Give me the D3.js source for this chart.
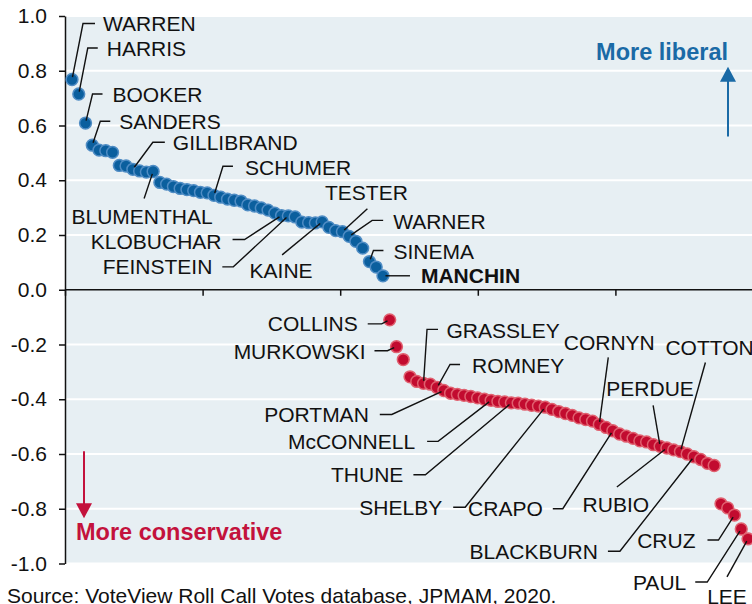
<!DOCTYPE html>
<html>
<head>
<meta charset="utf-8">
<script src="https://cdn.jsdelivr.net/npm/d3@7"></script>
<style>
  body { margin: 0; background: #fff; }
  svg { display: block; font-family: "Liberation Sans", Arial, sans-serif; }
</style>
</head>
<body>
<div id="chart"></div>
<script>
// ideology score per senator, ranked from most liberal to most conservative
var demScores = [0.768, 0.715, 0.609, 0.528, 0.510, 0.508, 0.502, 0.454, 0.452, 0.440,
  0.434, 0.430, 0.432, 0.392, 0.386, 0.377, 0.370, 0.366, 0.362, 0.356,
  0.354, 0.345, 0.338, 0.331, 0.327, 0.324, 0.310, 0.306, 0.299, 0.291,
  0.280, 0.271, 0.270, 0.266, 0.247, 0.245, 0.244, 0.248, 0.228, 0.216,
  0.212, 0.195, 0.177, 0.152, 0.103, 0.083, 0.051];
var repScores = [-0.110, -0.208, -0.255, -0.318, -0.335, -0.342, -0.345, -0.357, -0.368, -0.378,
  -0.382, -0.386, -0.390, -0.395, -0.400, -0.404, -0.408, -0.410, -0.413, -0.414,
  -0.418, -0.422, -0.425, -0.429, -0.437, -0.445, -0.452, -0.459, -0.468, -0.474,
  -0.480, -0.492, -0.503, -0.515, -0.527, -0.535, -0.543, -0.552, -0.556, -0.566,
  -0.572, -0.578, -0.585, -0.591, -0.600, -0.610, -0.620, -0.634, -0.642, -0.782,
  -0.797, -0.823, -0.874, -0.910];

var yTicks = [-1, -0.8, -0.6, -0.4, -0.2, 0, 0.2, 0.4, 0.6, 0.8, 1];
var yTickLabels = ["-1.0", "-0.8", "-0.6", "-0.4", "-0.2", "0.0", "0.2", "0.4", "0.6", "0.8", "1.0"];
var xTicks = [0, 20, 40, 60, 80, 100];

var labelNames = ["WARREN", "HARRIS", "BOOKER", "SANDERS", "GILLIBRAND", "BLUMENTHAL", "SCHUMER",
  "KLOBUCHAR", "FEINSTEIN", "KAINE", "TESTER", "WARNER", "SINEMA", "MANCHIN",
  "COLLINS", "MURKOWSKI", "GRASSLEY", "ROMNEY", "PORTMAN", "McCONNELL", "THUNE", "SHELBY",
  "CRAPO", "CORNYN", "PERDUE", "COTTON", "RUBIO", "BLACKBURN", "CRUZ", "PAUL", "LEE"];
var labelRank = [0, 1, 2, 3, 9, 12, 21, 31, 32, 37, 40, 41, 44, 46,
  47, 48, 52, 54, 55, 62, 65, 70, 80, 78, 87, 90, 88, 92, 98, 99, 100];

// where each name sits relative to its dot (px): text offset, anchor, leader knee and tail
var labelLayout = [
  {tx: 31, ty: -56, a: "start", k: [11, -56], t: [23, -56]},
  {tx: 28, ty: -46, a: "start", k: [9, -46], t: [19, -46]},
  {tx: 27, ty: -29, a: "start", k: [7, -29], t: [17, -29]},
  {tx: 27, ty: -24, a: "start", k: [8, -24], t: [18, -24]},
  {tx: 40, ty: -27, a: "start", k: [20, -27], t: [32, -27]},
  {tx: -11, ty: 45, a: "middle", k: [-9, 27]},
  {tx: 31, ty: -28, a: "start", k: [9, -29], t: [19, -29]},
  {tx: -60, ty: 26, a: "end", k: [-37, 24], t: [-49, 24]},
  {tx: -76, ty: 51, a: "end", k: [-55, 51], t: [-66, 51]},
  {tx: -41, ty: 49, a: "middle", k: [-40, 33]},
  {tx: 24, ty: -39, a: "middle", k: [25, -23]},
  {tx: 44, ty: -15, a: "start", k: [23, -16], t: [34, -16]},
  {tx: 24, ty: -10, a: "start", k: [4, -11], t: [14, -11]},
  {tx: 38, ty: 0, a: "start", k: [27, 0], bold: true},
  {tx: -32, ty: 4, a: "end", k: [-8, 4], t: [-22, 4]},
  {tx: -31, ty: 5, a: "end", k: [-9, 4], t: [-22, 4]},
  {tx: 23, ty: -53, a: "start", k: [3.5, -54], t: [14.5, -54]},
  {tx: 35, ty: -22, a: "start", k: [13, -23], t: [23, -23]},
  {tx: -75, ty: 24, a: "end", k: [-52, 24], t: [-64, 24]},
  {tx: -76, ty: 41, a: "end", k: [-53, 41], t: [-64, 41]},
  {tx: -108, ty: 72, a: "end", k: [-86, 72], t: [-98, 72]},
  {tx: -103, ty: 100, a: "end", k: [-80, 100], t: [-92, 100]},
  {tx: -70, ty: 78, a: "end", k: [-50, 78], t: [-60, 78]},
  {tx: 10, ty: -82, a: "middle", k: [9, -67]},
  {tx: -10, ty: -58, a: "middle", k: [-7, -41]},
  {tx: -15, ty: -104, a: "start", k: [25, -89]},
  {tx: -51, ty: 56, a: "middle", k: [-50, 39]},
  {tx: -96, ty: 94.5, a: "end", k: [-74, 94.5], t: [-86, 94.5]},
  {tx: -39, ty: 25, a: "end", k: [-16, 25], t: [-27, 25]},
  {tx: -55, ty: 53, a: "end", k: [-34, 53], t: [-46, 53]},
  {tx: -21, ty: 58, a: "middle", k: [-21, 38]}
];

var width = 752, height = 604;
var blue = "#0b5f9e", blueEdge = "#4f8cc4";
var red = "#c20b2f", redEdge = "#e0606f";

var senators = demScores.map(function(v) { return {score: v, party: "D"}; })
  .concat(repScores.map(function(v) { return {score: v, party: "R"}; }));
senators.forEach(function(d, i) { d.rank = i; });

var svg = d3.select("#chart").append("svg")
  .attr("width", width)
  .attr("height", height);

var y = d3.scaleLinear().domain([-1, 1]).range([563.5, 16]);
var xAxisScale = d3.scaleLinear().domain([0, 100]).range([65, 753]);
var x = d3.scaleLinear().domain([0, senators.length - 1]).range([72, 748]);

var plotLeft = 65, plotRight = width;

svg.append("rect")
  .attr("x", plotLeft)
  .attr("y", y(1))
  .attr("width", plotRight - plotLeft)
  .attr("height", y(-1) - y(1))
  .style("fill", "#e7eff3");

svg.append("g")
  .selectAll("line")
  .data(yTicks.filter(function(d) { return d !== 0; }))
  .enter().append("line")
  .attr("x1", plotLeft)
  .attr("x2", plotRight)
  .attr("y1", function(d) { return y(d); })
  .attr("y2", function(d) { return y(d); })
  .style("stroke", "#fff")
  .style("stroke-width", "2px");

// y axis
var yAxis = svg.append("g")
  .attr("transform", "translate(" + plotLeft + ",0)")
  .call(d3.axisLeft(y)
    .tickValues(yTicks)
    .tickFormat(function(d, i) { return yTickLabels[i]; })
    .tickSize(6)
    .tickSizeOuter(0)
    .tickPadding(12));
yAxis.select(".domain").style("stroke", "#111").style("stroke-width", "1.5px");
yAxis.selectAll(".tick line").style("stroke", "#111").style("stroke-width", "1.5px");
yAxis.selectAll("text")
  .style("font-family", "'Liberation Sans', Arial, sans-serif")
  .style("font-size", "21px")
  .style("fill", "#111");

// zero line with its ticks
var xAxis = svg.append("g")
  .attr("transform", "translate(0," + y(0) + ")")
  .call(d3.axisBottom(xAxisScale)
    .tickValues(xTicks)
    .tickFormat("")
    .tickSize(6)
    .tickSizeOuter(0));
xAxis.select(".domain").attr("d", "M" + plotLeft + ",0H" + plotRight)
  .style("stroke", "#111").style("stroke-width", "1.5px");
xAxis.selectAll(".tick line").style("stroke", "#111").style("stroke-width", "1.5px");

// dots
svg.append("g")
  .selectAll("circle")
  .data(senators)
  .enter().append("circle")
  .attr("cx", function(d) { return x(d.rank); })
  .attr("cy", function(d) { return y(d.score); })
  .attr("r", 5.9)
  .style("fill", function(d) { return d.party === "D" ? blue : red; })
  .style("stroke", function(d) { return d.party === "D" ? blueEdge : redEdge; })
  .style("stroke-width", "1.5px");

// name labels with leader lines
var labels = labelNames.map(function(name, i) {
  var s = senators[labelRank[i]];
  return {name: name, cx: x(s.rank), cy: y(s.score), lay: labelLayout[i]};
});

var line = d3.line();

svg.append("g")
  .selectAll("path")
  .data(labels)
  .enter().append("path")
  .attr("d", function(d) {
    var k = d.lay.k;
    var len = Math.sqrt(k[0] * k[0] + k[1] * k[1]);
    var pts = [[d.cx + k[0] / len * 2.5, d.cy + k[1] / len * 2.5], [d.cx + k[0], d.cy + k[1]]];
    if (d.lay.t) pts.push([d.cx + d.lay.t[0], d.cy + d.lay.t[1]]);
    return line(pts);
  })
  .style("fill", "none")
  .style("stroke", "#111")
  .style("stroke-width", "1.4px");

svg.append("g")
  .selectAll("text")
  .data(labels)
  .enter().append("text")
  .attr("x", function(d) { return d.cx + d.lay.tx; })
  .attr("y", function(d) { return d.cy + d.lay.ty; })
  .attr("dy", "0.36em")
  .attr("text-anchor", function(d) { return d.lay.a; })
  .style("font-size", "21px")
  .style("font-weight", function(d) { return d.lay.bold ? "bold" : "normal"; })
  .style("fill", "#111")
  .text(function(d) { return d.name; });

// direction hints
svg.append("text")
  .attr("x", 728)
  .attr("y", y(0.87))
  .attr("dy", "0.36em")
  .attr("text-anchor", "end")
  .style("font-size", "23.5px")
  .style("font-weight", "bold")
  .style("fill", "#1a6aa6")
  .text("More liberal");

svg.append("line")
  .attr("x1", 728).attr("x2", 728)
  .attr("y1", y(0.56)).attr("y2", y(0.77))
  .style("stroke", "#1a6aa6")
  .style("stroke-width", "2px");
svg.append("path")
  .attr("d", "M720," + y(0.76) + "L736," + y(0.76) + "L728," + y(0.815) + "Z")
  .style("fill", "#1a6aa6");

svg.append("text")
  .attr("x", 76)
  .attr("y", y(-0.885))
  .attr("dy", "0.36em")
  .style("font-size", "23.5px")
  .style("font-weight", "bold")
  .style("fill", "#c3123c")
  .text("More conservative");

svg.append("line")
  .attr("x1", 84).attr("x2", 84)
  .attr("y1", y(-0.59)).attr("y2", y(-0.8))
  .style("stroke", "#c3123c")
  .style("stroke-width", "2px");
svg.append("path")
  .attr("d", "M76," + y(-0.78) + "L92," + y(-0.78) + "L84," + y(-0.835) + "Z")
  .style("fill", "#c3123c");

svg.append("text")
  .attr("x", 7)
  .attr("y", 603)
  .style("font-size", "21px")
  .style("fill", "#111")
  .text("Source: VoteView Roll Call Votes database, JPMAM, 2020.");
</script>
</body>
</html>
